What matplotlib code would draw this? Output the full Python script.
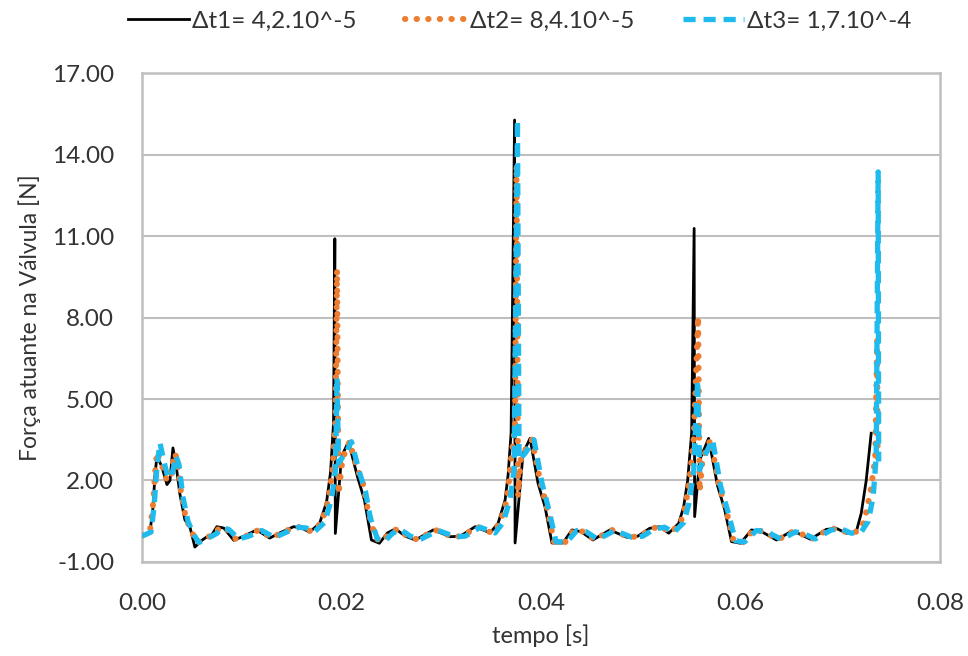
import numpy as np
import matplotlib
matplotlib.use('Agg')
import matplotlib.pyplot as plt

plt.rcParams['font.family'] = ['Lato', 'DejaVu Sans']

# ## Data

black_t = [0.0000, 0.0008, 0.0011, 0.0013, 0.0015, 0.0020, 0.0025, 0.0028, 0.0031, 0.0034,
           0.0038, 0.0043, 0.0048, 0.0053, 0.0060, 0.0066, 0.0070, 0.0075, 0.0082, 0.0092,
           0.0102, 0.0115, 0.0128, 0.0138, 0.0152, 0.0160, 0.0168, 0.0178, 0.0185, 0.0189,
           0.0192, 0.01933, 0.01938, 0.0200, 0.0207, 0.0216, 0.0223, 0.0230, 0.0238, 0.0246,
           0.0254, 0.0264, 0.0274, 0.0292, 0.0309, 0.0319, 0.0334, 0.0349, 0.0357, 0.0364,
           0.0367, 0.0370, 0.03735, 0.0374, 0.0382, 0.0389, 0.0397, 0.0404, 0.0411, 0.0422,
           0.0431, 0.0440, 0.0452, 0.0469, 0.0486, 0.0497, 0.0509, 0.0519, 0.0528, 0.0538,
           0.0543, 0.0547, 0.0551, 0.05535, 0.0554, 0.0559, 0.0568, 0.0577, 0.0584, 0.0591,
           0.0600, 0.0611, 0.0621, 0.0636, 0.0650, 0.0658, 0.0670, 0.0686, 0.0696, 0.0706,
           0.0716, 0.0721, 0.0726, 0.0731]
black_v = [-0.02, 0.10, 1.00, 2.20, 2.90, 2.50, 1.85, 2.00, 3.20, 2.60,
           1.50, 0.55, 0.30, -0.45, -0.20, -0.05, 0.00, 0.30, 0.25, -0.20,
           -0.05, 0.18, -0.12, 0.07, 0.30, 0.25, 0.10, 0.42, 1.20, 2.30,
           4.10, 10.90, 0.05, 2.88, 3.43, 2.14, 1.28, -0.19, -0.31, 0.07,
           0.22, -0.05, -0.19, 0.18, -0.07, -0.05, 0.30, 0.07, 0.43, 1.28,
           2.20, 3.75, 15.27, -0.30, 3.00, 3.55, 1.90, 1.03, -0.30, -0.30,
           0.18, 0.12, -0.19, 0.18, -0.09, -0.05, 0.24, 0.30, 0.06, 0.42,
           1.03, 2.00, 3.75, 11.28, 0.67, 2.75, 3.55, 1.80, 0.95, -0.25,
           -0.31, 0.18, 0.12, -0.19, 0.11, 0.05, -0.16, 0.20, 0.24, 0.06,
           0.11, 0.79, 2.00, 3.74]

orange_t = [0.0000, 0.0008, 0.0011, 0.0013, 0.0015, 0.0020, 0.0025, 0.0029, 0.0032, 0.0035,
            0.0039, 0.0044, 0.0050, 0.0055, 0.0062, 0.0068, 0.0072, 0.0078, 0.0085, 0.0094,
            0.0104, 0.0117, 0.0130, 0.0140, 0.0154, 0.0162, 0.0170, 0.0180, 0.0187, 0.0191,
            0.0194, 0.01955, 0.0197, 0.0201, 0.0208, 0.0216, 0.0221, 0.0226, 0.0234, 0.0240,
            0.0248, 0.0256, 0.0266, 0.0276, 0.0294, 0.0311, 0.0321, 0.0336, 0.0351, 0.0359,
            0.0366, 0.0370, 0.0374, 0.03755, 0.0377, 0.0380, 0.0391, 0.0399, 0.0406, 0.0413,
            0.0424, 0.0433, 0.0442, 0.0454, 0.0471, 0.0488, 0.0499, 0.0511, 0.0521, 0.0530,
            0.0540, 0.0545, 0.0549, 0.0553, 0.05575, 0.0559, 0.0562, 0.0570, 0.0578, 0.0585,
            0.0593, 0.0602, 0.0613, 0.0623, 0.0638, 0.0652, 0.0660, 0.0672, 0.0688, 0.0698,
            0.0708, 0.0718, 0.0724, 0.0730, 0.0735, 0.0737, 0.07375]
orange_v = [-0.02, 0.15, 1.10, 2.20, 3.05, 2.55, 2.00, 2.10, 3.00, 2.85,
            1.60, 0.60, 0.10, -0.30, -0.15, -0.05, 0.00, 0.28, 0.22, -0.15,
            -0.05, 0.18, -0.10, 0.07, 0.30, 0.25, 0.12, 0.45, 1.30, 2.40,
            4.30, 9.75, 1.50, 2.80, 3.43, 2.40, 2.00, 1.00, -0.12, -0.25,
            0.05, 0.22, -0.05, -0.17, 0.18, -0.07, -0.05, 0.30, 0.07, 0.45,
            1.30, 2.80, 4.00, 13.60, 1.40, 2.90, 3.50, 2.00, 1.00, -0.25,
            -0.28, 0.18, 0.12, -0.17, 0.18, -0.09, -0.05, 0.24, 0.30, 0.08,
            0.45, 1.10, 2.10, 3.50, 8.03, 1.60, 2.80, 3.50, 1.90, 1.00,
            -0.22, -0.28, 0.18, 0.12, -0.17, 0.11, 0.05, -0.15, 0.20, 0.24,
            0.06, 0.13, 0.48, 1.53, 2.80, 7.17, 2.60]

blue_t = [0.0000, 0.0009, 0.0012, 0.0015, 0.0018, 0.0022, 0.0026, 0.0030, 0.0034, 0.0037,
          0.0041, 0.0046, 0.0052, 0.0057, 0.0064, 0.0070, 0.0075, 0.0080, 0.0087, 0.0097,
          0.0107, 0.0120, 0.0133, 0.0143, 0.0157, 0.0165, 0.0173, 0.0183, 0.0190, 0.0194,
          0.01955, 0.0197, 0.0204, 0.0210, 0.0218, 0.0224, 0.0229, 0.0236, 0.0243, 0.0251,
          0.0259, 0.0269, 0.0279, 0.0297, 0.0314, 0.0324, 0.0339, 0.0354, 0.0362, 0.0369,
          0.0373, 0.03764, 0.0378, 0.0384, 0.0393, 0.0401, 0.0408, 0.0415, 0.0426, 0.0436,
          0.0445, 0.0457, 0.0474, 0.0491, 0.0502, 0.0514, 0.0524, 0.0533, 0.0543, 0.0548,
          0.0553, 0.0557, 0.0559, 0.0564, 0.0572, 0.0580, 0.0587, 0.0595, 0.0604, 0.0616,
          0.0626, 0.0641, 0.0655, 0.0663, 0.0675, 0.0691, 0.0701, 0.0711, 0.0721, 0.0728,
          0.0733, 0.0736, 0.0738, 0.07385]
blue_v = [-0.05, 0.10, 1.00, 2.50, 3.38, 2.70, 2.10, 2.20, 2.90, 2.60,
          1.40, 0.50, 0.00, -0.28, -0.15, -0.05, 0.05, 0.25, 0.20, -0.15,
          -0.05, 0.16, -0.10, 0.07, 0.28, 0.25, 0.12, 0.45, 1.30, 2.40,
          5.80, 2.65, 3.00, 3.43, 2.30, 1.60, 0.60, -0.15, -0.25, 0.05,
          0.20, -0.05, -0.17, 0.16, -0.07, -0.05, 0.28, 0.07, 0.45, 1.30,
          2.40, 15.27, 2.75, 3.00, 3.50, 1.90, 0.90, -0.25, -0.26, 0.16,
          0.12, -0.17, 0.16, -0.09, -0.05, 0.22, 0.28, 0.08, 0.45, 1.10,
          2.30, 5.70, 2.40, 2.90, 3.50, 1.80, 0.90, -0.22, -0.26, 0.16,
          0.12, -0.17, 0.11, 0.05, -0.15, 0.18, 0.22, 0.06, 0.10, 0.50,
          1.40, 2.88, 13.36, 2.70]

labels = ['Δt1= 4,2.10^-5', 'Δt2= 8,4.10^-5', 'Δt3= 1,7.10^-4']
y_ticks = [-1, 2, 5, 8, 11, 14, 17]
x_ticks = [0.00, 0.02, 0.04, 0.06, 0.08]

# ## Plot

fig = plt.figure(figsize=(9.68, 6.56), dpi=100)
ax = fig.add_axes([0.1467, 0.1433, 0.8244, 0.7454])

ax.plot(black_t, black_v, color='black', lw=2.0, label=labels[0], zorder=3)
ax.plot(orange_t, orange_v, color='#ED7D31', lw=4.4, linestyle=(0, (0.05, 1.85)),
        dash_capstyle='round', label=labels[1], zorder=4)
ax.plot(blue_t, blue_v, color='#1FBBEF', lw=3.8, linestyle=(0, (2.3, 1.5)),
        dash_capstyle='butt', label=labels[2], zorder=5)

ax.set_xlim(0, 0.08)
ax.set_ylim(-1, 17)
ax.set_xticks(x_ticks)
ax.set_yticks(y_ticks)
ax.set_xticklabels(['%.2f' % v for v in x_ticks])
ax.set_yticklabels(['%.2f' % v for v in y_ticks])
ax.tick_params(length=0, labelsize=17.5, colors='#333333')
ax.tick_params(axis='x', pad=22)
ax.tick_params(axis='y', pad=20)
ax.yaxis.grid(True, color='#BFBFBF', lw=1.5)
ax.set_axisbelow(True)
for s in ax.spines.values():
    s.set_color('#BFBFBF')
    s.set_linewidth(1.8)

ax.set_xlabel('tempo [s]', fontsize=17, color='#333333', labelpad=8)
ax.set_ylabel('Força atuante na Válvula [N]', fontsize=16.5, color='#333333', labelpad=8)

fig.legend(loc='center', bbox_to_anchor=(0.537, 0.968), ncol=3, frameon=False,
           fontsize=17.5, handlelength=2.5, handletextpad=0.15, columnspacing=2.0,
           labelcolor='#333333')

plt.savefig('out.png', dpi=100)
